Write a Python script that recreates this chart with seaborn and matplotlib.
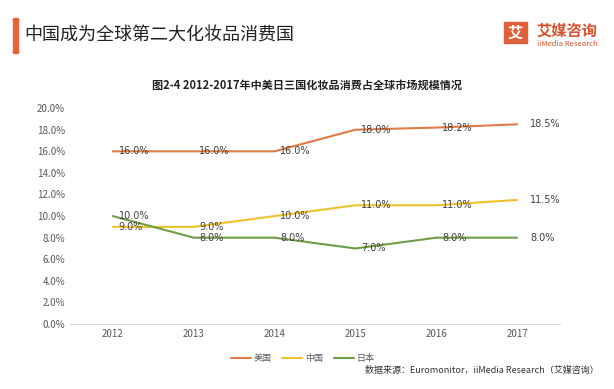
import pandas as pd
import seaborn as sns
import matplotlib.pyplot as plt
import matplotlib.ticker as tick
from matplotlib.patches import Rectangle

years = ['2012', '2013', '2014', '2015', '2016', '2017']
usa = [16.0, 16.0, 16.0, 18.0, 18.2, 18.5]
china = [9.0, 9.0, 10.0, 11.0, 11.0, 11.5]
japan = [10.0, 8.0, 8.0, 7.0, 8.0, 8.0]
series_names = ['美国', '中国', '日本']
colors = ['#E07B45', '#F0C22A', '#6E9E45']

sns.set_style('white')
plt.rcParams['font.family'] = ['Noto Sans CJK SC', 'DejaVu Sans']

df = pd.DataFrame({'year': years * 3,
                   'value': usa + china + japan,
                   'country': [n for n in series_names for _ in years]})

fig = plt.figure(figsize=(6.14, 3.89), dpi=100)
ax = fig.add_axes([0.114, 0.167, 0.798, 0.555])
sns.lineplot(data=df, x='year', y='value', hue='country', palette=colors,
             linewidth=1.5, ax=ax, sort=False)

ax.set_xlim(-0.53, 5.53)
ax.set_ylim(0, 20)
ax.set_yticks(range(0, 21, 2))
ax.yaxis.set_major_formatter(tick.FuncFormatter(lambda v, _: f'{v:.1f}%'))
ax.tick_params(axis='both', labelsize=7, colors='#595959', length=0)
ax.set_xlabel('')
ax.set_ylabel('')
for s in ['top', 'right', 'left']:
    ax.spines[s].set_visible(False)
ax.spines['bottom'].set_color('#D9D9D9')

for vals in [usa, china, japan]:
    for i, v in enumerate(vals):
        dx = 0.16 if i == len(vals) - 1 else 0.07
        ax.text(i + dx, v, f'{v:.1f}%', fontsize=7, color='#404040',
                va='center', ha='left', family=['DejaVu Sans'])

leg = ax.legend(loc='upper center', bbox_to_anchor=(0.475, -0.1), ncol=3,
                frameon=False, fontsize=6.5, handlelength=2.2,
                columnspacing=1.2, handletextpad=0.3)
for t in leg.get_texts():
    t.set_color('#595959')

fig.text(0.5, 0.78, '图2-4 2012-2017年中美日三国化妆品消费占全球市场规模情况',
         ha='center', va='center', fontsize=8, fontweight='bold', color='#222222')
fig.text(0.04, 0.908, '中国成为全球第二大化妆品消费国', ha='left', va='center',
         fontsize=13, color='#222222')
fig.patches.append(Rectangle((0.021, 0.864), 0.008, 0.09, transform=fig.transFigure,
                             color='#E8643A', figure=fig))
fig.patches.append(Rectangle((0.821, 0.889), 0.0375, 0.054, transform=fig.transFigure,
                             color='#E0603A', figure=fig))
fig.text(0.8395, 0.915, '艾', ha='center', va='center', fontsize=11,
         color='white', fontweight='bold')
fig.text(0.874, 0.922, '艾媒咨询', ha='left', va='center', fontsize=11,
         color='#D9512C', fontweight='bold')
fig.text(0.874, 0.887, 'iiMedia Research', ha='left', va='center', fontsize=5.5,
         color='#D9512C')

fig.text(0.975, 0.048, '数据来源：Euromonitor，iiMedia Research（艾媒咨询）',
         ha='right', va='center', fontsize=6.5, color='#333333')

plt.savefig('out.png', dpi=100)
